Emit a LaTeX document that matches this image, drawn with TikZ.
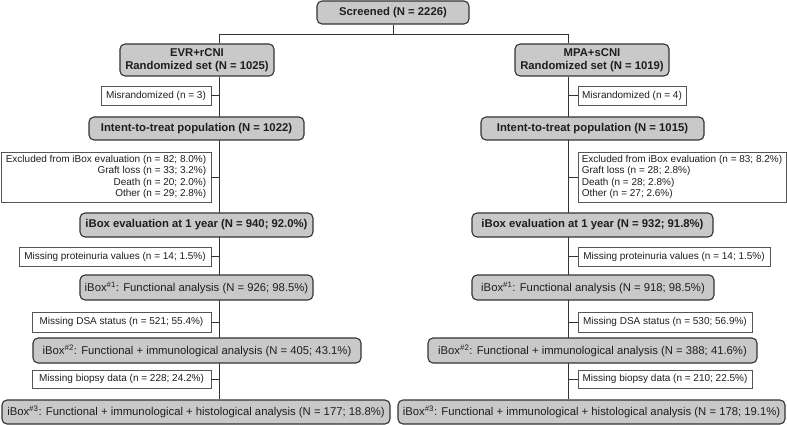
\documentclass[tikz,border=0pt]{standalone}
\usepackage{fontspec}
\setmainfont{Liberation Sans}
\usetikzlibrary{backgrounds}
\definecolor{boxfill}{HTML}{C9C9C9}
\definecolor{boxline}{HTML}{333333}
\definecolor{sideline}{HTML}{555555}
\definecolor{ink}{HTML}{1E1E1E}
\begin{document}
\begin{tikzpicture}[x=1pt, y=-1pt,
  mainbox/.style={draw=boxline, fill=boxfill, line width=1.1pt, rounded corners=5pt,
    inner sep=0pt, text=ink, align=center, font=\fontsize{11.3}{13.5}\selectfont},
  sidebox/.style={draw=sideline, fill=white, line width=0.6pt, inner sep=0pt,
    text=ink, align=center, font=\fontsize{10}{11.3}\selectfont},
  link/.style={draw=boxline, line width=0.9pt}]
\useasboundingbox (0,0) rectangle (787,425);

% Spines of the two arms
\coordinate (split) at (393,34);
\coordinate (spL) at (219,0);
\coordinate (spR) at (568,0);

% Top
\node[mainbox, minimum width=152pt, minimum height=23pt] (scr) at (393,12.5) {\textbf{Screened (N = 2226)}};
\node[mainbox, minimum width=154pt, minimum height=32pt] (evr) at (197,60) {\textbf{EVR+rCNI}\\\textbf{Randomized set (N = 1025)}};
\node[mainbox, minimum width=154pt, minimum height=32pt] (mpa) at (592,60) {\textbf{MPA+sCNI}\\\textbf{Randomized set (N = 1019)}};

% Left arm
\node[sidebox, minimum width=110pt, minimum height=19pt] (mis1) at (156,95.5) {Misrandomized (n = 3)};
\node[mainbox, minimum width=215pt, minimum height=23pt] (itt1) at (196.5,128.5) {\textbf{Intent-to-treat population (N = 1022)}};
\node[sidebox, align=right, minimum width=210pt, minimum height=50pt] (exc1) at (106,177) {Excluded from iBox evaluation (n = 82; 8.0\%)\\Graft loss (n = 33; 3.2\%)\\Death (n = 20; 2.0\%)\\Other (n = 29; 2.8\%)};
\node[mainbox, minimum width=233pt, minimum height=24pt] (ev1) at (196.5,225) {\textbf{iBox evaluation at 1 year (N = 940; 92.0\%)}};
\node[sidebox, minimum width=192pt, minimum height=19pt] (pro1) at (115,256.5) {Missing proteinuria values (n = 14; 1.5\%)};
\node[mainbox, minimum width=233pt, minimum height=25pt] (fu1) at (196.5,287.5) {iBox\textsuperscript{\#1}: Functional analysis (N = 926; 98.5\%)};
\node[sidebox, minimum width=179pt, minimum height=20pt] (dsa1) at (121.5,322) {Missing DSA status (n = 521; 55.4\%)};
\node[mainbox, minimum width=328pt, minimum height=25pt] (im1) at (197,350.5) {iBox\textsuperscript{\#2}: Functional + immunological analysis (N = 405; 43.1\%)};
\node[sidebox, minimum width=179pt, minimum height=18pt] (bio1) at (121.5,379) {Missing biopsy data (n = 228; 24.2\%)};
\node[mainbox, minimum width=388pt, minimum height=24pt] (hi1) at (196,412) {iBox\textsuperscript{\#3}: Functional + immunological + histological analysis (N = 177; 18.8\%)};

% Right arm
\node[sidebox, minimum width=108pt, minimum height=19pt] (mis2) at (632,95.5) {Misrandomized (n = 4)};
\node[mainbox, minimum width=223pt, minimum height=23pt] (itt2) at (592.5,128.5) {\textbf{Intent-to-treat population (N = 1015)}};
\node[sidebox, align=left, minimum width=208pt, minimum height=50pt] (exc2) at (682,177) {Excluded from iBox evaluation (n = 83; 8.2\%)\\Graft loss (n = 28; 2.8\%)\\Death (n = 28; 2.8\%)\\Other (n = 27; 2.6\%)};
\node[mainbox, minimum width=241pt, minimum height=24pt] (ev2) at (592.5,225) {\textbf{iBox evaluation at 1 year (N = 932; 91.8\%)}};
\node[sidebox, minimum width=192pt, minimum height=19pt] (pro2) at (674,256.5) {Missing proteinuria values (n = 14; 1.5\%)};
\node[mainbox, minimum width=242pt, minimum height=25pt] (fu2) at (593,287.5) {iBox\textsuperscript{\#1}: Functional analysis (N = 918; 98.5\%)};
\node[sidebox, minimum width=174pt, minimum height=20pt] (dsa2) at (665,322) {Missing DSA status (n = 530; 56.9\%)};
\node[mainbox, minimum width=329pt, minimum height=25pt] (im2) at (592.5,350.5) {iBox\textsuperscript{\#2}: Functional + immunological analysis (N = 388; 41.6\%)};
\node[sidebox, minimum width=174pt, minimum height=18pt] (bio2) at (665,379) {Missing biopsy data (n = 210; 22.5\%)};
\node[mainbox, minimum width=387pt, minimum height=24pt] (hi2) at (591.5,412) {iBox\textsuperscript{\#3}: Functional + immunological + histological analysis (N = 178; 19.1\%)};

% Connectors
\begin{scope}[on background layer]
\draw[link] (scr.south) -- (scr.south |- split);
\draw[link] (evr.north -| spL) -- (spL |- split) -- (spR |- split) -- (mpa.north -| spR);
\draw[link] (evr.south -| spL) -- (hi1.north -| spL);
\draw[link] (mpa.south -| spR) -- (hi2.north -| spR);
\end{scope}
\foreach \s in {mis1,exc1,pro1,dsa1,bio1}
  \draw[link, line width=0.6pt] (\s.east) -- (\s.east -| spL);
\foreach \s in {mis2,exc2,pro2,dsa2,bio2}
  \draw[link, line width=0.6pt] (\s.west) -- (\s.west -| spR);
\end{tikzpicture}
\end{document}
